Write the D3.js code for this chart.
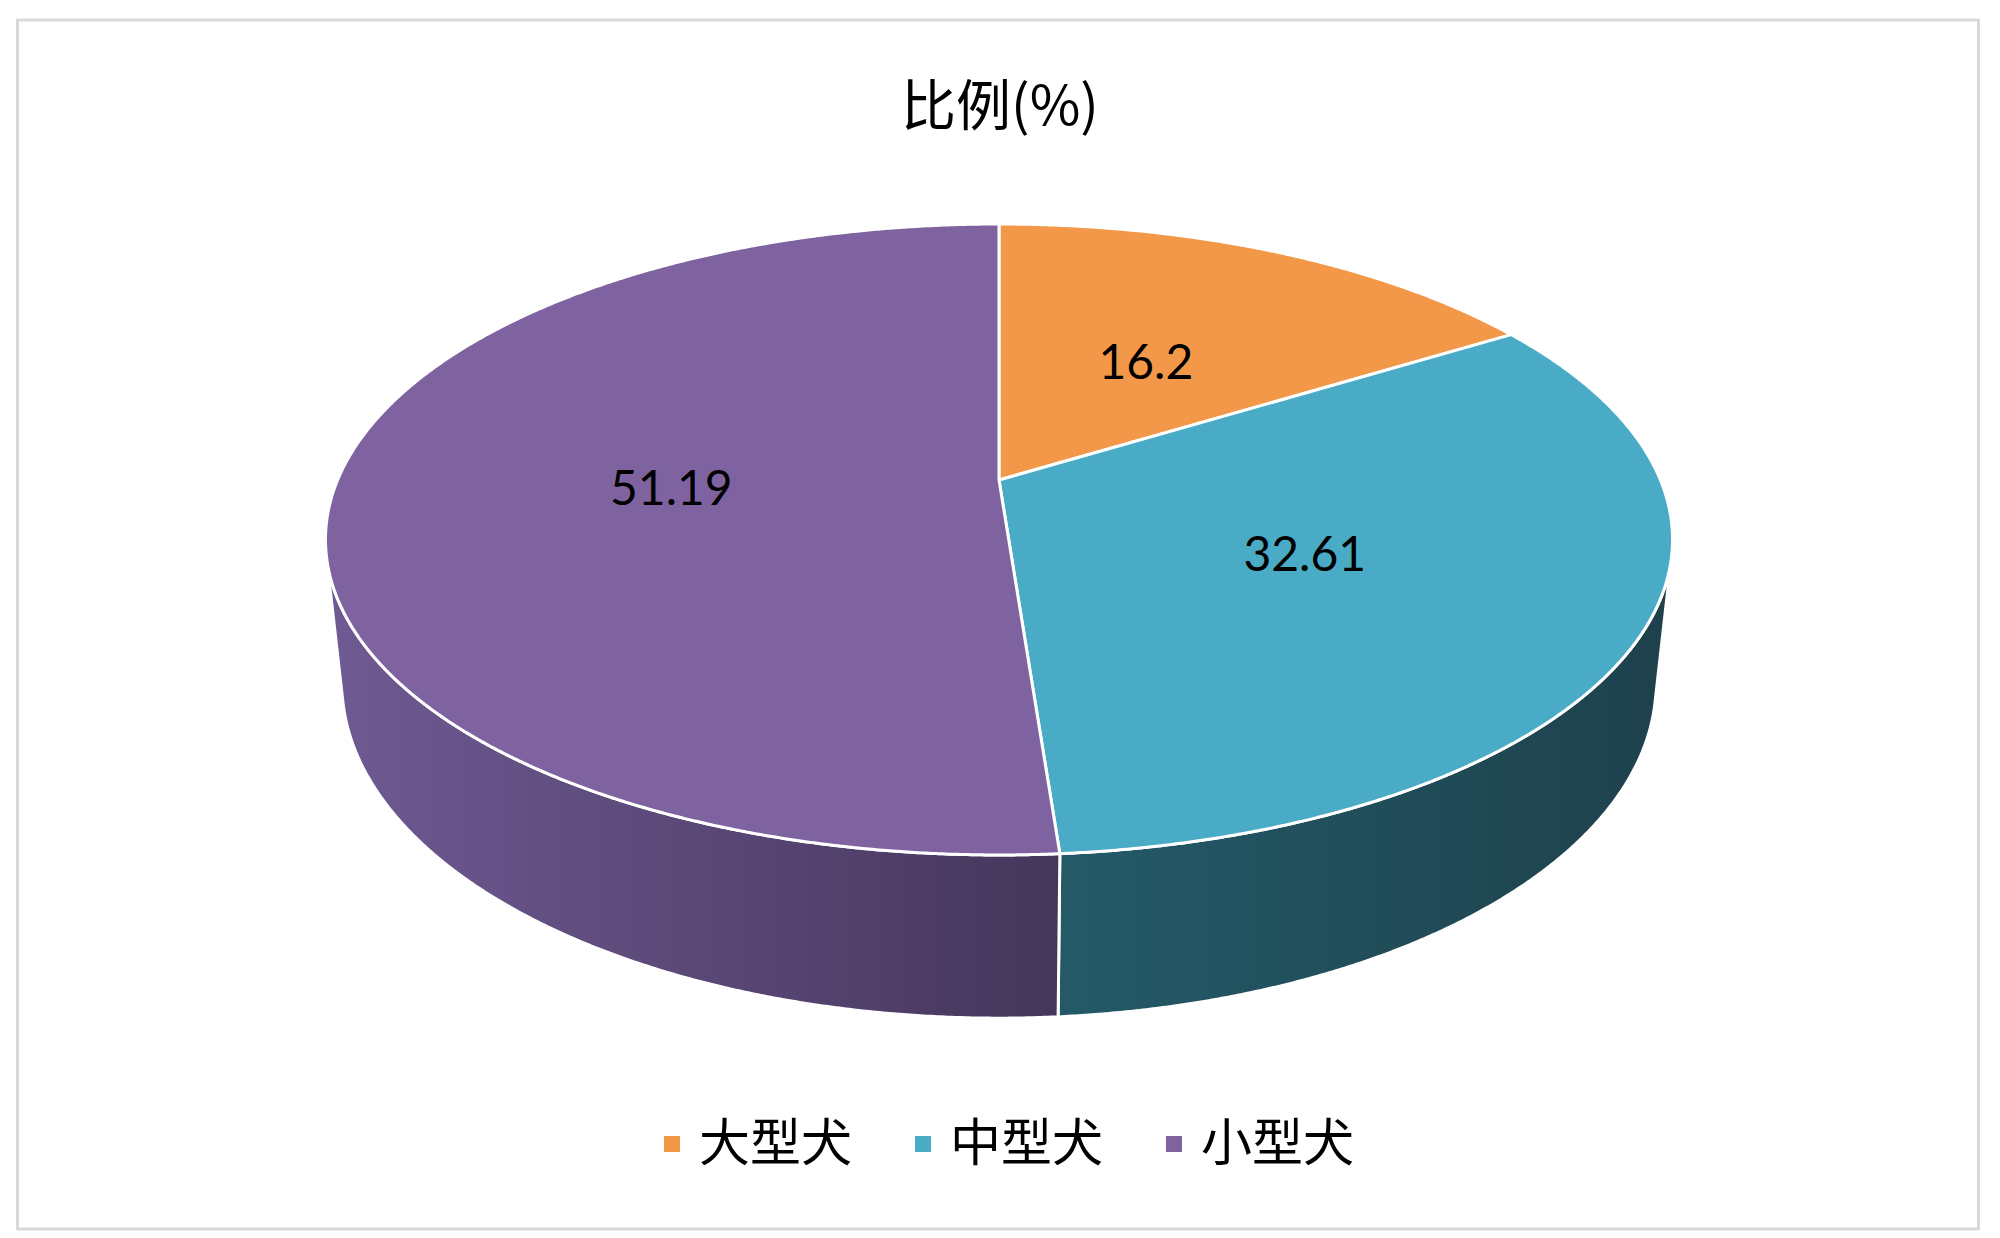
<!DOCTYPE html>
<html>
<head>
<meta charset="utf-8">
<script src="https://cdn.jsdelivr.net/npm/d3@7"></script>
<style>
  html, body { margin: 0; padding: 0; background: #fff; }
  svg { display: block; }
</style>
</head>
<body>
<svg id="chart" width="2000" height="1238"></svg>
<script>
// ---- data ----
const categories = ["大型犬", "中型犬", "小型犬"];
const values = [16.2, 32.61, 51.19];
const labels = ["16.2", "32.61", "51.19"];
const title = "比例(%)";
const topColors = ["#F39848", "#4AABC6", "#7F63A0"];
const sideLeft = ["#c0783a", "#245a68", "#6f5a93"];
const sideRight = ["#a8662f", "#1e414c", "#45365b"];

const W = 2000, H = 1238;
const svg = d3.select("#chart");

// border
svg.append("rect").attr("x", 17.5).attr("y", 20).attr("width", 1961).attr("height", 1209)
  .attr("fill", "#fff").attr("stroke", "#d9d9d9").attr("stroke-width", 3);

// title
svg.append("text").attr("x", 1000).attr("y", 125).attr("text-anchor", "middle")
  .attr("font-family", "'Noto Sans CJK SC', sans-serif").attr("font-size", 55)
  .attr("fill", "#000").text(title);

// ---- perspective projection of a 3D disc ----
const cx = 999, cy = 480, f = 3114;
const R = 0.2124, h = 0.0526;
const phi = Math.asin(0.460);
const sp = Math.sin(phi), cp = Math.cos(phi);
function proj(theta, z, r = 1) {
  const X = r * R * Math.sin(theta), Y = r * R * Math.cos(theta), Z = z;
  const depth = 1 + Y * cp - Z * sp;
  const up = Y * sp + Z * cp;
  return [cx + f * X / depth, cy - f * up / depth];
}

const pie = d3.pie().sort(null).startAngle(0).endAngle(2 * Math.PI);
const arcs = pie(values);
const line = d3.line();
const step = Math.PI / 720;
function arcPts(a0, a1, z) {
  const pts = [];
  const n = Math.max(2, Math.ceil((a1 - a0) / step));
  for (let i = 0; i <= n; i++) pts.push(proj(a0 + (a1 - a0) * i / n, z));
  return pts;
}

// visible side range
const vc = Math.acos(-R / cp);
const v0 = vc, v1 = 2 * Math.PI - vc;

const defs = svg.append("defs");
const gSide = svg.append("g");
arcs.forEach((a, i) => {
  const s = Math.max(a.startAngle, v0), e = Math.min(a.endAngle, v1);
  if (e <= s) return;
  const top = arcPts(s, e, 0);
  const bot = arcPts(s, e, -h).reverse();
  const xs = top.concat(bot).map(p => p[0]);
  const gid = "sg" + i;
  const lg = defs.append("linearGradient").attr("id", gid)
    .attr("gradientUnits", "userSpaceOnUse")
    .attr("x1", d3.min(xs)).attr("x2", d3.max(xs)).attr("y1", 0).attr("y2", 0);
  lg.append("stop").attr("offset", 0).attr("stop-color", sideLeft[i]);
  lg.append("stop").attr("offset", 1).attr("stop-color", sideRight[i]);
  gSide.append("path").attr("d", line(top.concat(bot)) + "Z")
    .attr("fill", `url(#${gid})`).attr("stroke", "#fff").attr("stroke-width", 3)
    .attr("stroke-linejoin", "round");
});

// top faces
const gTop = svg.append("g");
arcs.forEach((a, i) => {
  const pts = [proj(0, 0, 0)].concat(arcPts(a.startAngle, a.endAngle, 0));
  gTop.append("path").attr("d", line(pts) + "Z")
    .attr("fill", topColors[i]).attr("stroke", "#fff").attr("stroke-width", 3)
    .attr("stroke-linejoin", "round");
});

// data labels
const labelDy = [22, 19, 19];
arcs.forEach((a, i) => {
  const p = proj((a.startAngle + a.endAngle) / 2, 0, 0.5);
  svg.append("text").attr("x", p[0] + (i === 2 ? 4 : -2)).attr("y", p[1] + labelDy[i]).attr("text-anchor", "middle")
    .attr("font-family", "Lato, 'Open Sans', sans-serif").attr("font-size", 48)
    .attr("fill", "#000").text(labels[i]);
});

// legend
const lx = d3.scaleLinear().domain([0, 1]).range([664, 915]);
const leg = svg.append("g");
categories.forEach((c, i) => {
  const x0 = lx(i);
  leg.append("rect").attr("x", x0).attr("y", 1136).attr("width", 16).attr("height", 16)
    .attr("fill", topColors[i]);
  leg.append("text").attr("x", x0 + 35).attr("y", 1161)
    .attr("font-family", "'Noto Sans CJK SC', sans-serif").attr("font-size", 51)
    .attr("fill", "#000").text(c);
});
</script>
</body>
</html>
